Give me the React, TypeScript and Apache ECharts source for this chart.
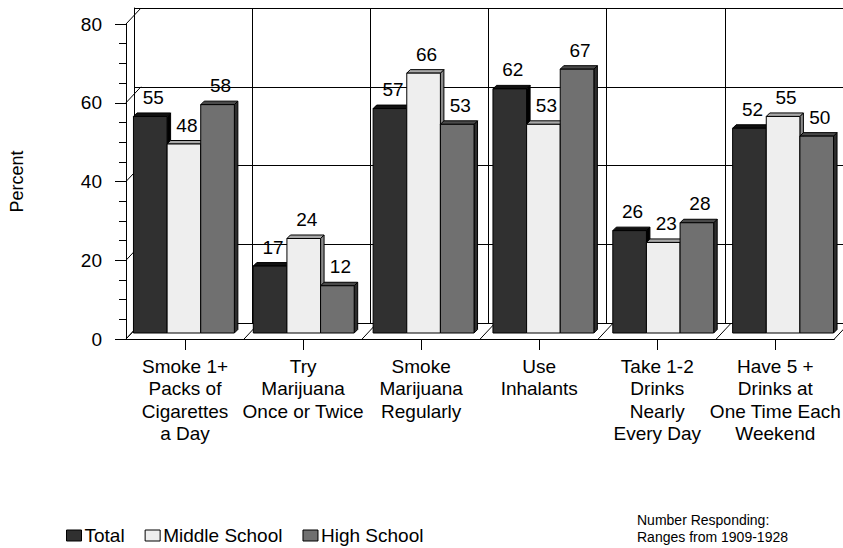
import React, { useEffect, useRef } from "react";
import * as echarts from "echarts";

const categories = [
  "Smoke 1+\nPacks of\nCigarettes\na Day",
  "Try\nMarijuana\nOnce or Twice",
  "Smoke\nMarijuana\nRegularly",
  "Use\nInhalants",
  "Take 1-2\nDrinks\nNearly\nEvery Day",
  "Have 5 +\nDrinks at\nOne Time Each\nWeekend",
];
const seriesNames = ["Total", "Middle School", "High School"];
const totalValues = [55, 17, 57, 62, 26, 52];
const middleValues = [48, 24, 66, 53, 23, 55];
const highValues = [58, 12, 53, 67, 28, 50];
const yTickValues = [0, 20, 40, 60, 80];
const noteLines = ["Number Responding:", "Ranges from 1909-1928"];

const FONT = '"Liberation Sans", Arial, Helvetica, sans-serif';
const frontColors = ["#303030", "#eeeeee", "#707070"];
const topColors = ["#111111", "#a8a8a8", "#4a4a4a"];
const sideColors = ["#000000", "#8a8a8a", "#2e2e2e"];
const DX = 15;
const DY = 16;
const BAR_DEPTH = 3.5;

function barRenderer(k: number) {
  return (params: any, api: any) => {
    const i = api.value(0);
    const v = api.value(1);
    const top = api.coord([i, v]);
    const base = api.coord([i, 0]);
    const band = api.size([1, 0])[0];
    const groupW = band * 0.842;
    const w = groupW / 3;
    const x0 = top[0] - groupW / 2 + k * w;
    const x1 = x0 + w;
    const yt = top[1];
    const yb = base[1];
    const d = BAR_DEPTH;
    return {
      type: "group",
      children: [
        {
          type: "polygon",
          shape: { points: [[x1, yt], [x1 + d, yt - d], [x1 + d, yb - d], [x1, yb]] },
          style: { fill: sideColors[k], stroke: "#000", lineWidth: 1 },
        },
        {
          type: "polygon",
          shape: { points: [[x0, yt], [x0 + d, yt - d], [x1 + d, yt - d], [x1, yt]] },
          style: { fill: topColors[k], stroke: "#000", lineWidth: 1 },
        },
        {
          type: "rect",
          shape: { x: x0, y: yt, width: w, height: yb - yt },
          style: { fill: frontColors[k], stroke: "#000", lineWidth: 1 },
        },
        {
          type: "text",
          x: x0 + w / 2 + 3,
          y: yt - 19,
          style: {
            text: String(v),
            fill: "#000",
            fontSize: 19,
            fontFamily: FONT,
            align: "center",
            verticalAlign: "middle",
          },
        },
      ],
    };
  };
}

function frameRenderer(params: any, api: any) {
  if (params.dataIndex !== 0) return null;
  const o = api.coord([0, 0]);
  const band = api.size([1, 0])[0];
  const left = o[0] - band / 2;
  const children: any[] = [];
  yTickValues.forEach((v) => {
    const p = api.coord([0, v]);
    children.push({
      type: "line",
      shape: { x1: left, y1: p[1], x2: left + DX, y2: p[1] - DY },
      style: { stroke: "#000", lineWidth: 1 },
    });
  });
  for (let k = 0; k <= categories.length; k++) {
    const x = left + k * band;
    children.push({
      type: "line",
      shape: { x1: x, y1: o[1], x2: x + DX, y2: o[1] - DY },
      style: { stroke: "#000", lineWidth: 1 },
    });
  }
  return { type: "group", children };
}

export default function App() {
  const ref = useRef<HTMLDivElement>(null);
  useEffect(() => {
    if (!ref.current) return;
    const chart = echarts.init(ref.current, null, { renderer: "svg" });
    const valueData = [totalValues, middleValues, highValues];
    const option: any = {
      animation: false,
      backgroundColor: "#ffffff",
      textStyle: { fontFamily: FONT, color: "#000" },
      grid: [
        { left: 119, top: 24, width: 720, height: 315 },
        { left: 124, top: 18, width: 720, height: 315 },
        { left: 134, top: 8, width: 720, height: 315 },
      ],
      xAxis: [
        {
          gridIndex: 0,
          type: "category",
          data: categories,
          axisLine: { show: true, lineStyle: { color: "#000", width: 1 } },
          axisTick: { show: true, alignWithLabel: true, length: 11, lineStyle: { color: "#000" } },
          axisLabel: {
            interval: 0,
            fontSize: 19,
            lineHeight: 22.5,
            color: "#000",
            fontFamily: FONT,
            margin: 16,
          },
          splitLine: { show: false },
        },
        {
          gridIndex: 1,
          type: "category",
          data: categories,
          show: false,
        },
        {
          gridIndex: 2,
          type: "category",
          data: categories,
          axisLine: { show: true, lineStyle: { color: "#000", width: 1 } },
          axisTick: { show: false },
          axisLabel: { show: false },
          splitLine: { show: true, interval: 0, lineStyle: { color: "#000", width: 1 } },
        },
      ],
      yAxis: [
        {
          gridIndex: 0,
          type: "value",
          min: 0,
          max: 80,
          interval: 20,
          name: "Percent",
          nameLocation: "middle",
          nameRotate: 90,
          nameGap: 100,
          nameTextStyle: { fontSize: 18, color: "#000", fontFamily: FONT },
          axisLine: { show: true, lineStyle: { color: "#000", width: 1 } },
          axisTick: { show: true, inside: false, length: 11, lineStyle: { color: "#000" } },
          minorTick: { show: true, splitNumber: 4, length: 7, lineStyle: { color: "#000" } },
          axisLabel: { fontSize: 19, color: "#000", fontFamily: FONT, margin: 24 },
          splitLine: { show: false },
        },
        {
          gridIndex: 1,
          type: "value",
          min: 0,
          max: 80,
          interval: 20,
          show: false,
          splitLine: { show: false },
        },
        {
          gridIndex: 2,
          type: "value",
          min: 0,
          max: 80,
          interval: 20,
          axisLine: { show: true, lineStyle: { color: "#000", width: 1 } },
          axisTick: { show: false },
          axisLabel: { show: false },
          splitLine: { show: true, lineStyle: { color: "#000", width: 1 } },
        },
      ],
      legend: {
        left: 66,
        top: 526,
        padding: 0,
        itemWidth: 15,
        itemHeight: 11,
        itemGap: 20,
        icon: "rect",
        textStyle: { fontSize: 19, color: "#000", fontFamily: FONT, padding: [0, 0, 0, -2] },
        data: seriesNames.map((n, k) => ({
          name: n,
          icon: "rect",
          itemStyle: { color: frontColors[k], borderColor: "#000", borderWidth: 1 },
        })),
      },
      graphic: [
        {
          type: "text",
          left: 637,
          top: 511,
          style: {
            text: noteLines.join("\n"),
            fontSize: 14,
            lineHeight: 17,
            fill: "#000",
            fontFamily: FONT,
          },
        },
      ],
      series: [
        {
          type: "custom",
          name: "frame",
          xAxisIndex: 0,
          yAxisIndex: 0,
          data: [[0, 0]],
          encode: { x: 0, y: 1 },
          renderItem: frameRenderer,
          clip: false,
          silent: true,
          z: 1,
        },
        ...seriesNames.map((n, k) => ({
          type: "custom",
          name: n,
          xAxisIndex: 1,
          yAxisIndex: 1,
          data: valueData[k].map((v, i) => [i, v]),
          encode: { x: 0, y: 1 },
          renderItem: barRenderer(k),
          clip: false,
          itemStyle: { color: frontColors[k], borderColor: "#000", borderWidth: 1 },
          z: 3,
        })),
      ],
    };
    chart.setOption(option);
    return () => chart.dispose();
  }, []);
  return (
    <div
      ref={ref}
      style={{ position: "fixed", left: 0, top: 0, width: 843, height: 548, background: "#fff" }}
    />
  );
}
